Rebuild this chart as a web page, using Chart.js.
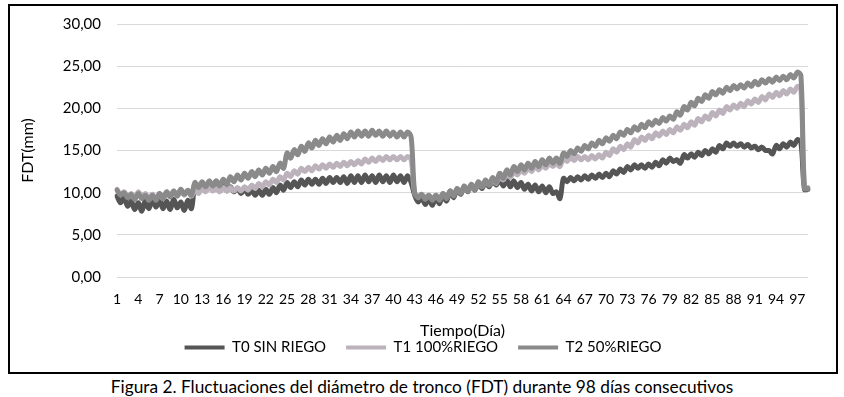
<!DOCTYPE html>
<html>
<head>
<meta charset="utf-8">
<script src="https://cdn.jsdelivr.net/npm/chart.js@4.4.1/dist/chart.umd.min.js"></script>
<style>
  body { margin: 0; background: #fff; width: 844px; height: 397px; overflow: hidden; position: relative;
         font-family: 'Lato', sans-serif; }
  #marco { position: absolute; left: 8px; top: 4px; width: 826px; height: 366px; border: 2px solid #000; }
  #fdt { display: block; }
  #leyenda { position: absolute; left: 0; top: 376px; width: 844px; text-align: center; font-size: 17.3px;
             font-weight: 400; color: #000; }
</style>
</head>
<body>
<div id="marco"><canvas id="fdt" width="826" height="366"></canvas></div>
<div id="leyenda">Figura 2. Fluctuaciones del diámetro de tronco (FDT) durante 98 días consecutivos</div>
<script>
// dias de medicion y etiquetas visibles del eje X
var dias = Array.from({ length: 98 }, (_, i) => i + 1);
var diasEtiqueta = [1, 4, 7, 10, 13, 16, 19, 22, 25, 28, 31, 34, 37, 40, 43, 46, 49, 52, 55, 58, 61, 64, 67, 70, 73, 76, 79, 82, 85, 88, 91, 94, 97];

// FDT (mm): maximo y minimo diario de cada tratamiento
var t0Max = [9.6, 9.4, 9.0, 8.8, 9.1, 9.3, 9.1, 9.0, 9.2, 8.9, 9.1, 10.8, 10.9, 11.0, 10.9, 10.8, 10.7, 10.5, 10.4, 10.3,
  10.3, 10.4, 10.6, 10.9, 11.2, 11.3, 11.5, 11.6, 11.6, 11.7, 11.8, 11.8, 11.9, 12.0, 12.0, 12.1, 12.0, 12.1, 12.0, 12.1,
  12.0, 12.0, 9.7, 9.4, 9.3, 9.5, 9.8, 10.2, 10.4, 10.7, 10.9, 11.1, 11.3, 11.5, 11.6, 11.5, 11.4, 11.2, 11.0, 10.9,
  10.8, 10.7, 10.1, 11.7, 11.8, 11.9, 12.0, 12.1, 12.2, 12.3, 12.6, 12.8, 13.1, 13.3, 13.3, 13.4, 13.6, 13.9, 14.1, 13.9,
  14.5, 14.6, 14.8, 15.0, 15.2, 15.6, 15.9, 15.9, 15.8, 15.7, 15.5, 15.4, 15.0, 15.6, 15.8, 16.0, 16.3, 10.4];
var t0Min = [8.8, 8.4, 8.0, 7.8, 8.1, 8.3, 8.1, 8.0, 8.2, 7.9, 8.1, 10.2, 10.3, 10.4, 10.3, 10.2, 10.1, 9.9, 9.8, 9.7,
  9.7, 9.8, 10.0, 10.3, 10.6, 10.7, 10.9, 11.0, 11.0, 11.1, 11.2, 11.2, 11.1, 11.2, 11.2, 11.3, 11.2, 11.3, 11.2, 11.3,
  11.2, 11.2, 8.9, 8.6, 8.5, 8.7, 9.0, 9.4, 9.8, 10.1, 10.3, 10.5, 10.7, 10.9, 10.8, 10.7, 10.6, 10.4, 10.2, 10.1,
  10.0, 9.9, 9.3, 11.3, 11.4, 11.5, 11.6, 11.7, 11.8, 11.9, 12.2, 12.4, 12.7, 12.9, 12.9, 13.0, 13.2, 13.5, 13.7, 13.5,
  14.1, 14.2, 14.4, 14.6, 14.8, 15.2, 15.5, 15.5, 15.4, 15.3, 15.1, 15.0, 14.6, 15.2, 15.4, 15.6, 15.9, 10.4];

var t1Max = [10.4, 10.1, 9.9, 10.1, 9.9, 9.8, 9.9, 10.1, 10.2, 10.3, 10.2, 10.3, 10.5, 10.6, 10.5, 10.6, 10.6, 10.6, 10.7, 10.9,
  11.1, 11.3, 11.6, 11.9, 12.3, 12.6, 12.9, 13.0, 13.2, 13.3, 13.4, 13.5, 13.6, 13.7, 13.8, 14.0, 14.1, 14.2, 14.3, 14.3,
  14.3, 14.3, 10.0, 9.8, 9.7, 9.7, 9.9, 10.2, 10.4, 10.6, 10.8, 11.1, 11.3, 11.5, 11.9, 12.2, 12.5, 12.7, 12.9, 13.1,
  13.3, 13.5, 13.5, 14.1, 14.2, 14.3, 14.3, 14.4, 14.5, 14.8, 15.2, 15.5, 15.8, 16.3, 16.6, 16.8, 17.1, 17.3, 17.5, 17.8,
  18.1, 18.4, 18.8, 19.1, 19.5, 19.8, 20.2, 20.4, 20.6, 20.9, 21.1, 21.4, 21.7, 21.9, 22.1, 22.3, 22.6, 10.6];
var t1Min = [9.8, 9.5, 9.3, 9.5, 9.3, 9.2, 9.3, 9.5, 9.6, 9.7, 9.6, 9.9, 10.1, 10.2, 10.1, 10.2, 10.2, 10.2, 10.3, 10.5,
  10.7, 10.9, 11.2, 11.5, 11.9, 12.2, 12.5, 12.6, 12.8, 12.9, 13.0, 13.1, 13.2, 13.3, 13.4, 13.6, 13.7, 13.8, 13.9, 13.9,
  13.9, 13.9, 9.6, 9.4, 9.3, 9.3, 9.5, 9.8, 10.0, 10.2, 10.4, 10.7, 10.9, 11.1, 11.5, 11.8, 12.1, 12.3, 12.5, 12.7,
  12.9, 13.1, 13.1, 13.7, 13.8, 13.9, 13.9, 14.0, 14.1, 14.4, 14.8, 15.1, 15.4, 15.9, 16.2, 16.4, 16.7, 16.9, 17.1, 17.4,
  17.7, 18.0, 18.4, 18.7, 19.1, 19.4, 19.8, 20.0, 20.2, 20.5, 20.7, 21.0, 21.3, 21.5, 21.7, 21.9, 22.2, 10.6];

var t2Max = [10.3, 10.0, 9.8, 9.9, 9.7, 9.7, 9.9, 10.1, 10.2, 10.4, 10.3, 11.2, 11.3, 11.4, 11.4, 11.6, 11.9, 12.1, 12.3, 12.5,
  12.7, 12.9, 13.1, 13.5, 14.7, 15.1, 15.5, 15.9, 16.2, 16.4, 16.6, 16.8, 17.0, 17.2, 17.3, 17.3, 17.4, 17.3, 17.3, 17.2,
  17.2, 17.2, 10.0, 9.8, 9.7, 9.7, 9.9, 10.2, 10.5, 10.8, 11.0, 11.3, 11.5, 11.8, 12.3, 12.7, 13.1, 13.3, 13.5, 13.7,
  13.9, 14.1, 14.1, 14.7, 15.0, 15.3, 15.6, 15.9, 16.2, 16.5, 16.8, 17.2, 17.5, 17.8, 18.1, 18.4, 18.6, 18.9, 19.1, 19.6,
  20.2, 20.7, 21.2, 21.6, 22.0, 22.2, 22.5, 22.7, 22.8, 23.0, 23.2, 23.4, 23.5, 23.7, 23.8, 24.0, 24.3, 10.5];
var t2Min = [9.7, 9.4, 9.2, 9.3, 9.1, 9.1, 9.3, 9.5, 9.6, 9.8, 9.7, 10.6, 10.7, 10.8, 10.8, 11.0, 11.3, 11.5, 11.7, 11.9,
  12.1, 12.3, 12.5, 12.9, 14.1, 14.5, 14.9, 15.3, 15.6, 15.8, 16.0, 16.2, 16.4, 16.6, 16.7, 16.7, 16.8, 16.7, 16.7, 16.6,
  16.6, 16.6, 9.4, 9.2, 9.1, 9.1, 9.3, 9.6, 9.9, 10.2, 10.4, 10.7, 10.9, 11.2, 11.7, 12.1, 12.5, 12.7, 12.9, 13.1,
  13.3, 13.5, 13.5, 14.3, 14.6, 14.9, 15.2, 15.5, 15.8, 16.1, 16.4, 16.8, 17.1, 17.4, 17.7, 18.0, 18.2, 18.5, 18.7, 19.2,
  19.8, 20.3, 20.8, 21.2, 21.6, 21.8, 22.1, 22.3, 22.4, 22.6, 22.8, 23.0, 23.1, 23.3, 23.4, 23.6, 23.9, 10.5];

// dos lecturas por dia (maximo y minimo)
function intercalar(maximos, minimos) {
  var out = [];
  maximos.forEach((v, i) => { out.push(v, minimos[i]); });
  return out;
}

var etiquetas = [];
dias.forEach(d => { etiquetas.push(d, d); });

Chart.defaults.font.family = "'Lato', sans-serif";
Chart.defaults.color = '#000';

var ctx = document.getElementById('fdt').getContext('2d');
new Chart(ctx, {
  type: 'line',
  data: {
    labels: etiquetas,
    datasets: [
      { label: 'T0 SIN RIEGO', data: intercalar(t0Max, t0Min), borderColor: '#555555', backgroundColor: '#555555', order: 3 },
      { label: 'T1 100%RIEGO', data: intercalar(t1Max, t1Min), borderColor: '#bcb2bc', backgroundColor: '#bcb2bc', order: 2 },
      { label: 'T2 50%RIEGO', data: intercalar(t2Max, t2Min), borderColor: '#8a8a8a', backgroundColor: '#8a8a8a', order: 1 }
    ]
  },
  options: {
    responsive: false,
    animation: false,
    layout: { padding: { left: 0, right: 0, top: 18, bottom: 7 } },
    elements: {
      point: { radius: 0, borderWidth: 4 },
      line: { borderWidth: 5, tension: 0.35, borderCapStyle: 'round', borderJoinStyle: 'round' }
    },
    plugins: {
      tooltip: { enabled: false },
      legend: {
        position: 'bottom',
        labels: {
          usePointStyle: true,
          pointStyle: 'line',
          pointStyleWidth: 40,
          padding: 20,
          font: { size: 15 },
          sort: (a, b) => a.datasetIndex - b.datasetIndex
        }
      }
    },
    scales: {
      x: {
        grid: { display: false },
        border: { display: false },
        ticks: {
          autoSkip: false,
          maxRotation: 0,
          minRotation: 0,
          padding: 6,
          font: { size: 14 },
          callback: function (val, i) {
            var d = etiquetas[i];
            return (i % 2 === 0 && diasEtiqueta.includes(d)) ? String(d) : '';
          }
        },
        title: { display: true, text: 'Tiempo(Día)', font: { size: 16 }, padding: { top: 7, bottom: -20 } }
      },
      y: {
        min: 0,
        max: 30,
        grid: { color: '#d9d9d9', drawTicks: false },
        border: { display: false },
        afterFit: s => { s.width = 107; s.paddingTop = 0; s.paddingBottom = 0; },
        ticks: {
          stepSize: 5,
          padding: 16,
          font: { size: 15 },
          callback: v => v.toFixed(2).replace('.', ',')
        },
        title: { display: true, text: 'FDT(mm)', font: { size: 16 }, padding: { top: 8, bottom: 0 } }
      },
      // margen derecho vacio
      yDer: {
        type: 'linear',
        position: 'right',
        grid: { display: false },
        border: { display: false },
        ticks: { display: false },
        afterFit: s => { s.width = 28; s.paddingTop = 0; s.paddingBottom = 0; }
      }
    }
  }
});
</script>
</body>
</html>
